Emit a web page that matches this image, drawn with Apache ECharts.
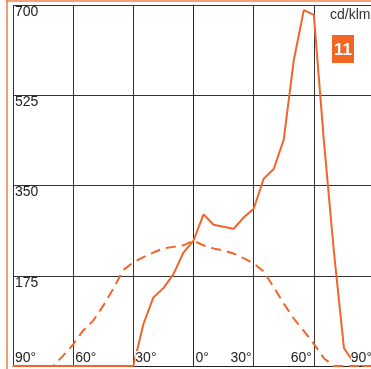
<!DOCTYPE html>
<html><head><meta charset="utf-8">
<script src="https://cdn.jsdelivr.net/npm/echarts@6/dist/echarts.min.js"></script>
<style>html,body{margin:0;padding:0;background:#fff;overflow:hidden}#c{width:371px;height:369px}</style>
</head><body><div id="c"></div>
<script>
// Angles (degrees) at which intensities were read
const angles = [-90,-85,-80,-75,-70,-65,-60,-55,-50,-45,-40,-35,-30,-25,-20,-15,-10,-5,0,
                5,10,15,20,25,30,35,40,45,50,55,60,65,70,75,80,85,90];
// Solid curve (cd/klm)
const solidValues = [0,0,0,0,0,0,0,0,0,0,0,0,0,81,133,151,178,220,243,
                     294,274,270,266,288,305,363,382,439,593,690,681,437,222,35,6,0,0];
// Dashed curve (cd/klm)
const dashedValues = [0,0,0,0,0,20,42,69,88,117,150,186,201,211,220,228,231,234,243,
                      234,228,224,218,209,199,183,153,121,92,68,43,15,0,0,0,0,0];
const xTicks = [-90,-60,-30,0,30,60,90];
const yTicks = [0,175,350,525,700];
const unitLabel = 'cd/klm';
const badgeLabel = '11';

const ORANGE = '#F1652A';
const FONT = '"Liberation Sans", Arial, Helvetica, sans-serif';
const xStep = xTicks[1] - xTicks[0];
const yStep = yTicks[1] - yTicks[0];

const chart = echarts.init(document.getElementById('c'), null, {renderer: 'canvas'});
const toPairs = vals => angles.map((a, i) => [a, vals[i]]);

const labelRich = {
  a: {backgroundColor: '#fff', color: '#222', fontSize: 14, fontFamily: FONT, lineHeight: 14},
  sp: {width: 2}
};
const baseX = {
  type: 'value', min: xTicks[0], max: xTicks[xTicks.length - 1], interval: xStep,
  position: 'bottom', axisTick: {show: false}
};

chart.setOption({
  animation: false,
  backgroundColor: '#fff',
  grid: {left: 13, top: 5, width: 361, height: 361, outerBoundsMode: 'none', containLabel: false},
  xAxis: [
    Object.assign({}, baseX, {
      z: 0,
      axisLine: {show: true, lineStyle: {color: '#222', width: 1}},
      axisLabel: {show: false},
      splitLine: {show: true, lineStyle: {color: '#333', width: 1}}
    }),
    Object.assign({}, baseX, {
      z: 10,
      axisLine: {show: false}, splitLine: {show: false},
      axisLabel: {
        inside: true, margin: 1, align: 'left', verticalAlign: 'bottom',
        showMinLabel: true, showMaxLabel: true,
        formatter: v => v <= 0 ? '{sp| }{a|' + Math.abs(v) + '°}' : '',
        rich: labelRich
      }
    }),
    Object.assign({}, baseX, {
      z: 10,
      axisLine: {show: false}, splitLine: {show: false},
      axisLabel: {
        inside: true, margin: 1, align: 'right', verticalAlign: 'bottom',
        showMinLabel: true, showMaxLabel: true,
        formatter: v => v > 0 ? '{a|' + v + '°}{sp| }' : '',
        rich: labelRich
      }
    })
  ],
  yAxis: {
    type: 'value', min: yTicks[0], max: yTicks[yTicks.length - 1], interval: yStep,
    axisLine: {show: true, lineStyle: {color: '#222', width: 1}},
    axisTick: {show: false},
    splitLine: {show: true, lineStyle: {color: '#333', width: 1}},
    axisLabel: {
      inside: true, margin: 2, verticalAlign: 'top', showMinLabel: false,
      color: '#222', fontSize: 14, fontFamily: FONT,
      formatter: v => v === 0 ? '' : String(v)
    }
  },
  series: [
    {
      type: 'line', xAxisIndex: 0, data: toPairs(dashedValues), symbol: 'none',
      lineStyle: {color: ORANGE, width: 2, type: [10, 6]}, z: 3
    },
    {
      type: 'line', xAxisIndex: 0, data: toPairs(solidValues), symbol: 'none',
      lineStyle: {color: ORANGE, width: 2}, z: 4
    }
  ],
  graphic: [
    {type: 'line', silent: true, shape: {x1: 6, y1: 1, x2: 371, y2: 1},
     style: {stroke: '#F5A27A', lineWidth: 2}},
    {type: 'line', silent: true, shape: {x1: 7, y1: 0, x2: 7, y2: 369},
     style: {stroke: '#EF7D45', lineWidth: 1.5}},
    {type: 'text', silent: true, x: 330, y: 8,
     style: {text: unitLabel, font: '14px ' + FONT, fill: '#333', align: 'left', verticalAlign: 'top'}},
    {type: 'rect', silent: true, shape: {x: 332, y: 35, width: 22, height: 28},
     style: {fill: '#F26522'}},
    {type: 'text', silent: true, x: 343, y: 50,
     style: {text: badgeLabel, font: 'bold 17px ' + FONT, fill: '#fff', align: 'center', verticalAlign: 'middle'}}
  ]
});
</script>
</body></html>
